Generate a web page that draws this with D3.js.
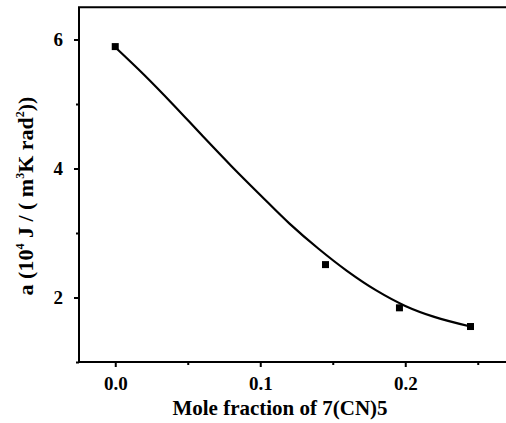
<!DOCTYPE html>
<html>
<head>
<meta charset="utf-8">
<script src="https://cdn.jsdelivr.net/npm/d3@7"></script>
<style>
  body { margin: 0; background: #fff; }
  svg { display: block; }
  text { font-family: "Liberation Serif", "Times New Roman", serif; font-weight: bold; fill: #000; }
</style>
</head>
<body>
<div id="chart"></div>
<script>
// measured points
const moleFraction = [0, 0.145, 0.196, 0.245];
const coefA = [5.89, 2.51, 1.84, 1.55];

// fitted curve
const fitX = [0, 0.02, 0.04, 0.06, 0.08, 0.10, 0.12, 0.14, 0.16, 0.18, 0.20, 0.22, 0.245];
const fitY = [5.88, 5.45, 4.99, 4.51, 4.04, 3.59, 3.15, 2.76, 2.41, 2.11, 1.87, 1.70, 1.55];

const xMajor = [0, 0.1, 0.2];
const xMinor = [0.05, 0.15, 0.25];
const yMajor = [2, 4, 6];
const yMinor = [1, 3, 5];

const width = 506, height = 423;

const svg = d3.select('#chart').append('svg')
    .attr('width', width)
    .attr('height', height);

const x = d3.scaleLinear().domain([-0.025, 0.275]).range([79, 514]);
const y = d3.scaleLinear().domain([1, 6.5]).range([362, 7.25]);

// frame (right side runs off the picture)
svg.append('rect')
    .attr('x', x.range()[0])
    .attr('y', y.range()[1])
    .attr('width', x.range()[1] - x.range()[0])
    .attr('height', y.range()[0] - y.range()[1])
    .attr('fill', 'none')
    .attr('stroke', '#000')
    .attr('stroke-width', 2);

const styleAxis = g => g
    .attr('font-family', '"Liberation Serif", serif')
    .attr('font-weight', 'bold')
    .attr('font-size', 19);

// x axis
svg.append('g')
    .attr('transform', `translate(0,${y.range()[0]})`)
    .call(d3.axisBottom(x).tickValues(xMajor).tickSize(5).tickPadding(9.5).tickFormat(d3.format('.1f')))
    .call(styleAxis);
svg.append('g')
    .attr('transform', `translate(0,${y.range()[0]})`)
    .call(d3.axisBottom(x).tickValues(xMinor).tickSize(3).tickFormat(''));

// y axis
svg.append('g')
    .attr('transform', `translate(${x.range()[0]},0)`)
    .call(d3.axisLeft(y).tickValues(yMajor).tickSize(5).tickPadding(11).tickFormat(d3.format('d')))
    .call(styleAxis);
svg.append('g')
    .attr('transform', `translate(${x.range()[0]},0)`)
    .call(d3.axisLeft(y).tickValues(yMinor).tickSize(3).tickFormat(''));

svg.selectAll('.domain').remove();
svg.selectAll('.tick line').attr('stroke', '#000').attr('stroke-width', 2);

// fitted curve
const line = d3.line()
    .x(d => x(d[0]))
    .y(d => y(d[1]))
    .curve(d3.curveCatmullRom);

svg.append('path')
    .datum(fitX.map((v, i) => [v, fitY[i]]))
    .attr('d', line)
    .attr('fill', 'none')
    .attr('stroke', '#000')
    .attr('stroke-width', 2.2);

// data squares
const s = 7;
svg.selectAll('rect.pt')
    .data(moleFraction.map((v, i) => [v, coefA[i]]))
    .enter().append('rect')
    .attr('class', 'pt')
    .attr('x', d => x(d[0]) - s / 2)
    .attr('y', d => y(d[1]) - s / 2)
    .attr('width', s)
    .attr('height', s)
    .attr('fill', '#000');

// axis titles
svg.append('text')
    .attr('x', 280)
    .attr('y', 415)
    .attr('text-anchor', 'middle')
    .style('font-size', '21px')
    .text('Mole fraction of 7(CN)5');

const yTitle = svg.append('text')
    .attr('transform', 'translate(33,196) rotate(-90)')
    .attr('text-anchor', 'middle')
    .style('font-size', '22px');
const sup = (t) => {
    yTitle.append('tspan').attr('dy', -9).style('font-size', '12px').text(t);
};
yTitle.append('tspan').text('a (10');
sup('4');
yTitle.append('tspan').attr('dy', 9).text('  J / ( m');
sup('3');
yTitle.append('tspan').attr('dy', 9).text('K rad');
sup('2');
yTitle.append('tspan').attr('dy', 9).text('))');
</script>
</body>
</html>
